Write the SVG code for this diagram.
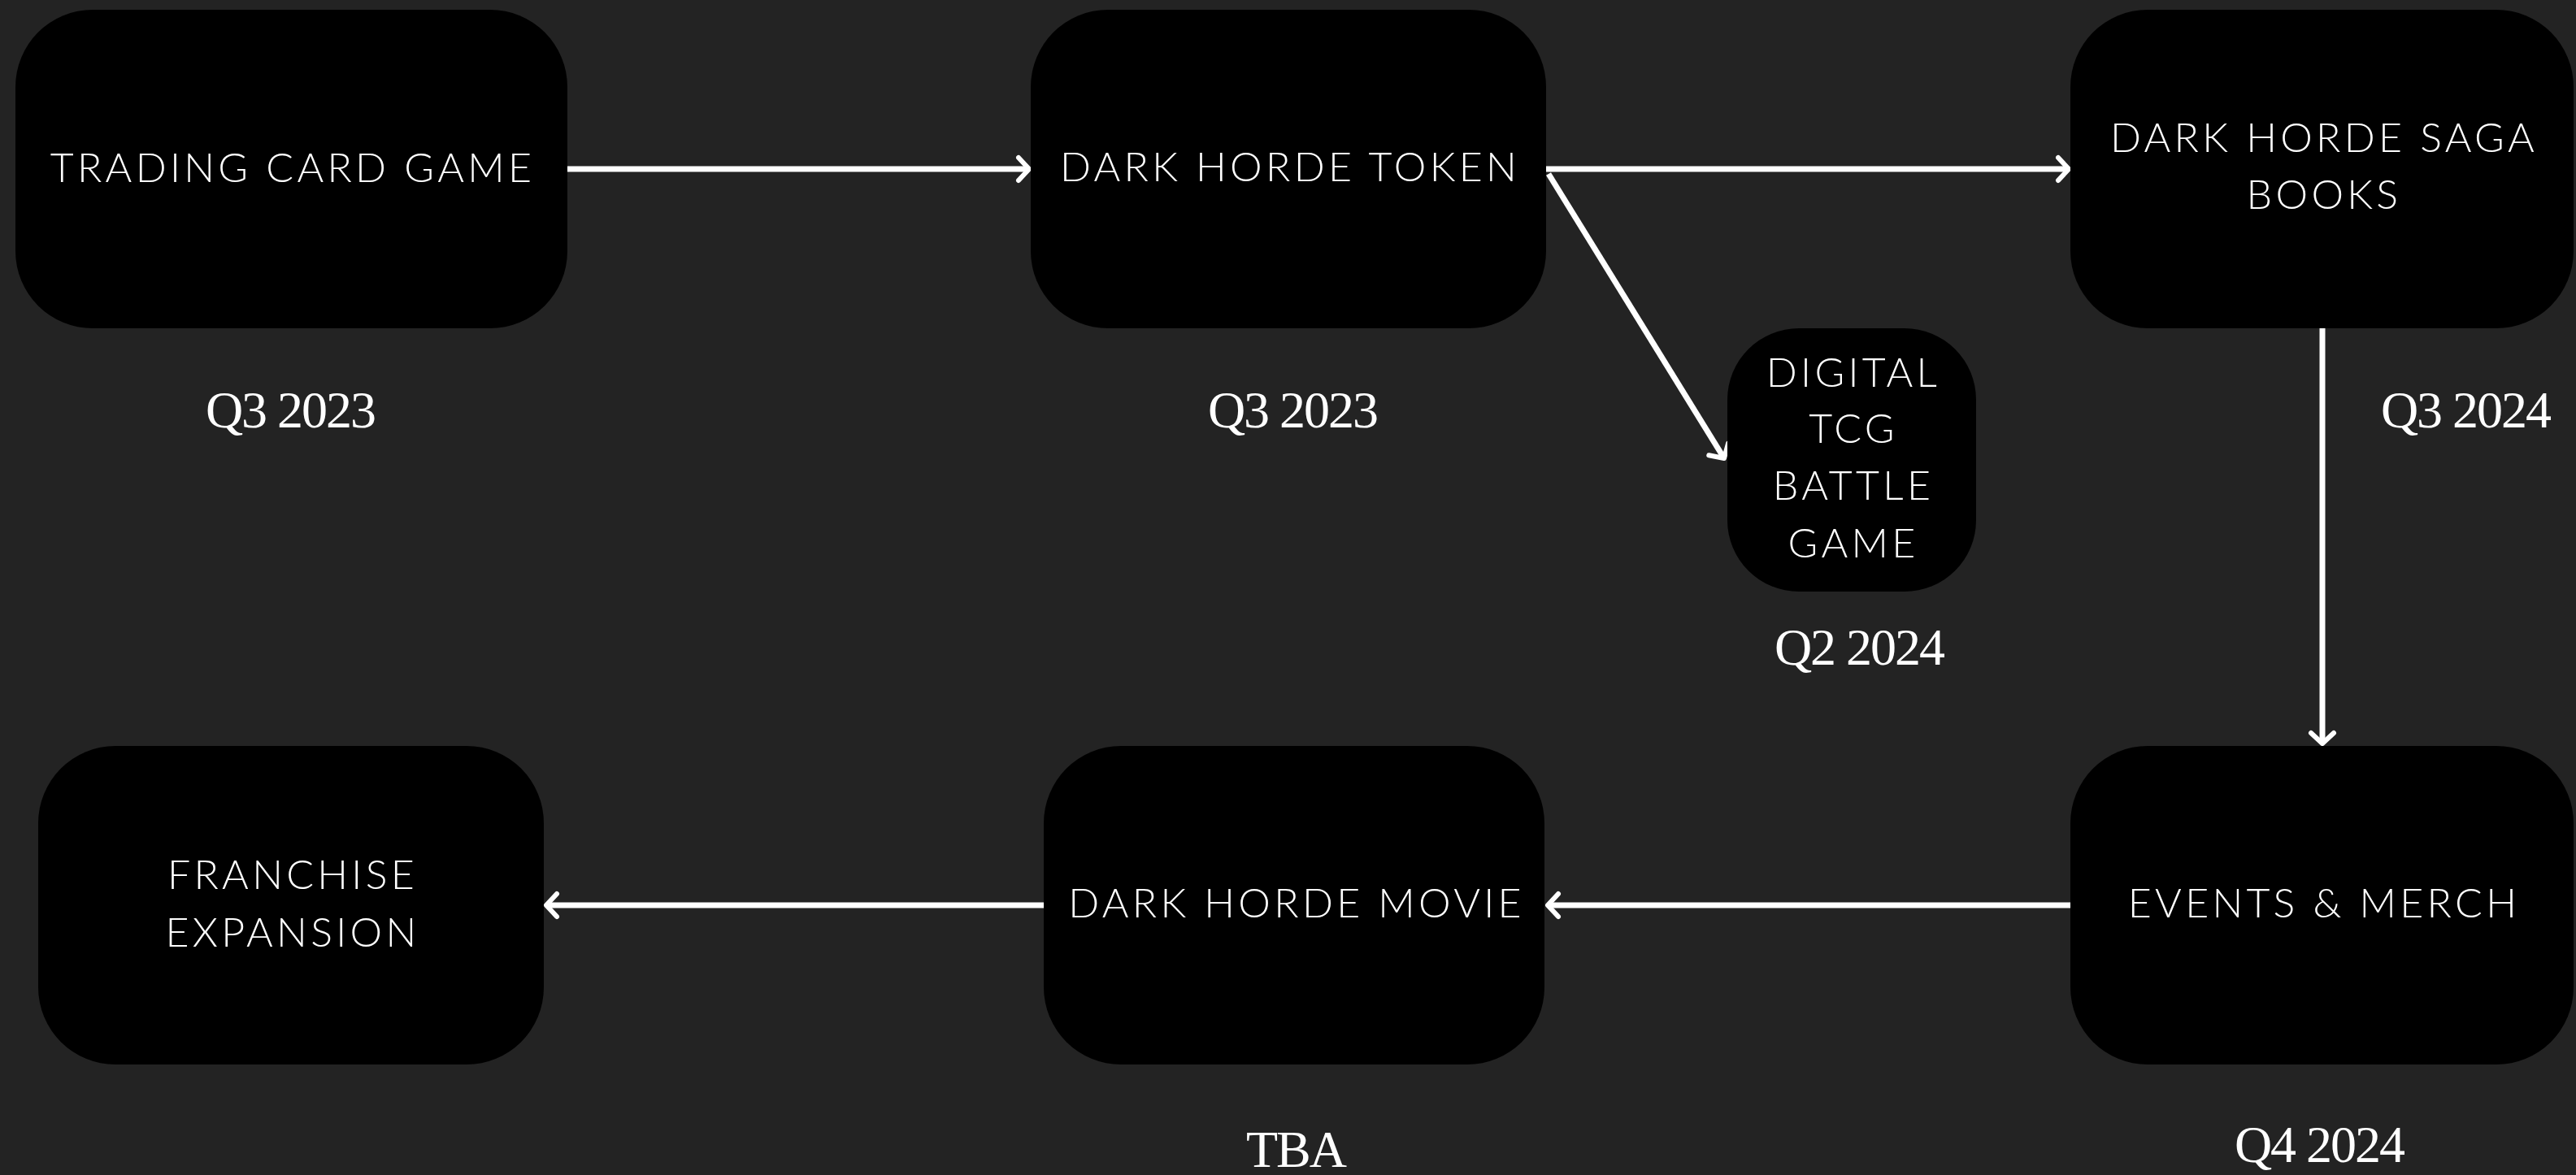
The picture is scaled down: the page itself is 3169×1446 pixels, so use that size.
<svg xmlns="http://www.w3.org/2000/svg" width="3169" height="1446" viewBox="0 0 3169 1446">
<defs>
<style>
.box{fill:#000}
.lbl{font-family:Lato,"Liberation Sans",sans-serif;font-weight:300;font-size:50px;fill:#fff;text-anchor:middle;letter-spacing:4.3px}
.date{font-family:"Liberation Serif",serif;font-size:64px;fill:#fff;text-anchor:middle;letter-spacing:-2px}
.conn{stroke:#fff;stroke-width:7;fill:none}
</style>
<marker id="ah" markerUnits="userSpaceOnUse" markerWidth="40" markerHeight="40" viewBox="-20 -20 40 40" refX="0" refY="0" orient="auto">
<path d="M-13,-14 L0,0 L-13,14" stroke="#fff" stroke-width="6" fill="none" stroke-linecap="round" stroke-linejoin="round"/>
</marker>
</defs>
<rect width="3169" height="1446" fill="#232323"/>
<g id="connectors">
<line class="conn" x1="698" y1="208" x2="1266" y2="208" marker-end="url(#ah)"/>
<line class="conn" x1="1902" y1="208" x2="2545" y2="208" marker-end="url(#ah)"/>
<line class="conn" x1="1905" y1="214" x2="2121" y2="564" marker-end="url(#ah)"/>
<line class="conn" x1="2857" y1="404" x2="2857" y2="915" marker-end="url(#ah)"/>
<line class="conn" x1="2547" y1="1114" x2="1904" y2="1114" marker-end="url(#ah)"/>
<line class="conn" x1="1284" y1="1114" x2="672" y2="1114" marker-end="url(#ah)"/>
</g>
<g id="node-tcg">
<rect class="box" x="19" y="12" width="679" height="392" rx="95"/>
<text class="lbl" x="360" y="224">TRADING CARD GAME</text>
<text class="date" x="357" y="526">Q3 2023</text>
</g>
<g id="node-token">
<rect class="box" x="1268" y="12" width="634" height="392" rx="95"/>
<text class="lbl" x="1587" y="223">DARK HORDE TOKEN</text>
<text class="date" x="1590" y="526">Q3 2023</text>
</g>
<g id="node-books">
<rect class="box" x="2547" y="12" width="619" height="392" rx="95"/>
<text class="lbl" x="2859" y="187">DARK HORDE SAGA</text>
<text class="lbl" x="2859" y="257">BOOKS</text>
<text class="date" x="3033" y="526">Q3 2024</text>
</g>
<g id="node-digital">
<rect class="box" x="2125" y="404" width="306" height="324" rx="88"/>
<text class="lbl" x="2280" y="476">DIGITAL</text>
<text class="lbl" x="2280" y="545">TCG</text>
<text class="lbl" x="2280" y="615">BATTLE</text>
<text class="lbl" x="2280" y="686">GAME</text>
<text class="date" x="2287" y="818">Q2 2024</text>
</g>
<g id="node-events">
<rect class="box" x="2547" y="918" width="619" height="392" rx="95"/>
<text class="lbl" x="2859" y="1129">EVENTS &amp; MERCH</text>
<text class="date" x="2853" y="1430">Q4 2024</text>
</g>
<g id="node-movie">
<rect class="box" x="1284" y="918" width="616" height="392" rx="95"/>
<text class="lbl" x="1595" y="1129">DARK HORDE MOVIE</text>
<text class="date" x="1594" y="1436">TBA</text>
</g>
<g id="node-franchise">
<rect class="box" x="47" y="918" width="622" height="392" rx="95"/>
<text class="lbl" x="360" y="1094">FRANCHISE</text>
<text class="lbl" x="360" y="1165">EXPANSION</text>
</g>
</svg>
